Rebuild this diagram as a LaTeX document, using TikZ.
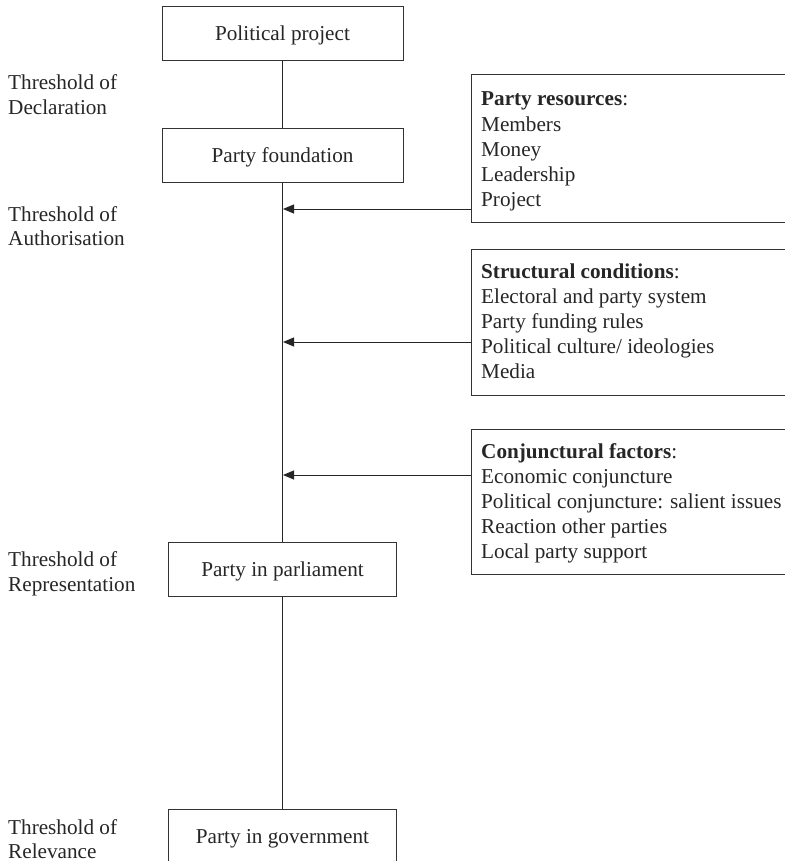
\documentclass[tikz,border=0pt]{standalone}
\usepackage{fontspec}
\setmainfont{Liberation Serif}
\usetikzlibrary{arrows.meta}
\begin{document}
\begin{tikzpicture}[x=1pt,y=-1pt,
  every node/.style={font=\fontsize{21.2}{25.2}\selectfont, inner sep=0pt, text=black!85},
  stage/.style={draw=black!80, line width=1pt, minimum height=54pt, text height=15pt, text depth=1pt},
  factorbox/.style={draw=black!80, line width=1pt, minimum width=340pt, anchor=north west},
  item/.style={anchor=base west},
  link/.style={draw=black!85, line width=1pt},
  arr/.style={draw=black!85, line width=1pt, -{Triangle[length=11pt,width=9pt]}}]
\useasboundingbox (0,0) rectangle (784,861);

% stages
\node[stage, minimum width=241pt] (pp) at (282.5,34) {Political project};
\node[stage, minimum width=241pt] (pf) at (282.5,155.5) {Party foundation};
\node[stage, minimum width=228pt] (parl) at (282.5,569.5) {Party in parliament};
\node[stage, minimum width=228pt] (gov) at (282.5,836) {Party in government};

\draw[link] (pp) -- (pf);
\draw[link] (pf) -- (parl);
\draw[link] (parl) -- (gov);

% thresholds
\node[item] (t1a) at (8,90) {Threshold of};
\node[item] (t1b) at (8,114.5) {Declaration};
\node[item] (t2a) at (8,221) {Threshold of};
\node[item] (t2b) at (8,245) {Authorisation};
\node[item] (t3a) at (8,566) {Threshold of};
\node[item] (t3b) at (8,591) {Representation};
\node[item] (t4a) at (8,834) {Threshold of};
\node[item] (t4b) at (8,858) {Relevance};

% factor boxes
\node[factorbox, minimum height=148pt] (res) at (471,74) {};
\node[factorbox, minimum height=146pt] (str) at (471,249) {};
\node[factorbox, minimum height=145pt] (con) at (471,429) {};

\foreach \t [count=\i from 0] in {{\textbf{Party resources}:},Members,Money,Leadership,Project}
  \node[item] (res\i) at (481,{106+25.2*\i}) {\t};
\foreach \t [count=\i from 0] in {{\textbf{Structural conditions}:},Electoral and party system,Party funding rules,Political culture/ ideologies,Media}
  \node[item] (str\i) at (481,{278+25.2*\i}) {\t};
\foreach \t [count=\i from 0] in {{\textbf{Conjunctural factors}:},Economic conjuncture,Political conjuncture: salient issues,Reaction other parties,Local party support}
  \node[item] (con\i) at (481,{458+25.2*\i}) {\t};

% arrows
\coordinate (j1) at (283,209);
\coordinate (j2) at (283,342);
\coordinate (j3) at (283,475);
\draw[arr] (res.west |- j1) -- (j1);
\draw[arr] (str.west |- j2) -- (j2);
\draw[arr] (con.west |- j3) -- (j3);
\end{tikzpicture}
\end{document}
